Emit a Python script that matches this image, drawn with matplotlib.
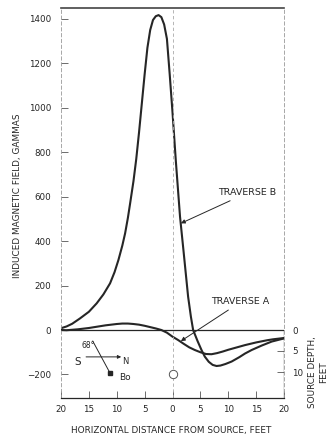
import numpy as np
import matplotlib.pyplot as plt

# traverse B (feet, gammas)
xb = [-20, -19, -18, -16.6, -15, -13.6, -12.4, -11.2, -10.4, -9.7, -9, -8.5, -8, -7.6,
      -7, -6.5, -6, -5.5, -5, -4.5, -4, -3.5, -3, -2.5, -2, -1.5, -1, -0.5,
      0, 0.6, 1.35, 2.0, 2.8, 3.3, 3.7, 4.5, 5.2, 5.8, 6.5, 7.2, 7.9, 8.6, 9.5,
      10.6, 12, 13, 14.2, 16, 17.8, 20]
vb = [8, 16, 28, 52, 82, 120, 160, 210, 260, 315, 380, 435, 505, 570,
      670, 770, 890, 1020, 1150, 1270, 1350, 1395, 1412, 1417, 1408, 1375, 1310, 1150,
      980, 760, 510, 350, 150, 60, 0, -50, -90, -120, -143, -157, -162, -160, -153,
      -142, -122, -106, -90, -70, -52, -38]

# traverse A
xa = [-20, -19, -18, -17, -16, -15, -14, -13, -12, -11, -10, -9, -8, -7, -6, -5,
      -4, -3, -2, -1, 0, 1, 2, 3, 4, 5, 6, 7, 8, 9, 10, 11, 12, 13, 14, 15, 16,
      17, 18, 19, 20]
va = [0, -1, 1, 3, 6, 9, 13, 17, 21, 24, 27, 29, 29, 27, 24, 19,
      13, 7, 0, -12, -30, -45, -62, -78, -90, -100, -108, -109, -104, -97, -89, -82,
      -75, -68, -62, -56, -51, -46, -42, -39, -36]

xticks = [-20, -15, -10, -5, 0, 5, 10, 15, 20]
xticklabels = ['20', '15', '10', '5', '0', '5', '10', '15', '20']
yticks = [-200, 0, 200, 400, 600, 800, 1000, 1200, 1400]
depth_ticks = [0, 5, 10]
gamma_per_ft = 18.9
source_x, source_depth = 0, 10.5

ink = '#262626'
plt.rcParams['font.family'] = 'DejaVu Sans'
plt.rcParams['font.size'] = 6.3

fig = plt.figure(figsize=(3.35, 4.37), dpi=100)
ax = fig.add_axes([61 / 335, 1 - 398 / 437, 223 / 335, 390 / 437])

ax.plot(xb, vb, color=ink, lw=1.5, solid_joinstyle='round')
ax.plot(xa, va, color=ink, lw=1.5, solid_joinstyle='round')
ax.axhline(0, color=ink, lw=0.9)
ax.axvline(0, color='#aaaaaa', lw=0.6, ls=(0, (4, 3)))
ax.vlines(20, -306, 0, color=ink, lw=0.9)

ax.set_xlim(-20, 20)
ax.set_ylim(-306, 1449)
ax.set_xticks(xticks)
ax.set_xticklabels(xticklabels)
ax.set_yticks(yticks)
ax.tick_params(direction='in', length=5, width=0.6, color='#555555', labelcolor=ink)
ax.tick_params(axis='y', pad=7)
ax.tick_params(axis='x', pad=5)

for s in ['left', 'right']:
    ax.spines[s].set_linestyle((0, (4, 3)))
    ax.spines[s].set_color('#999999')
    ax.spines[s].set_linewidth(0.6)
ax.spines['top'].set_color('#444444')
ax.spines['top'].set_linewidth(1.2)
ax.spines['bottom'].set_color(ink)
ax.spines['bottom'].set_linewidth(0.9)

# source depth scale
sec = ax.secondary_yaxis('right', functions=(lambda v: -v / gamma_per_ft,
                                             lambda d: -d * gamma_per_ft))
sec.set_yticks(depth_ticks)
sec.spines['right'].set_visible(False)
sec.tick_params(direction='in', length=5, width=0.6, color='#555555',
                labelcolor=ink, pad=6)

# source
ax.plot(source_x, -source_depth * gamma_per_ft, 'o', mfc='white', mec='#555555',
        mew=0.7, ms=6)

# annotations
ax.annotate('TRAVERSE B', xy=(1.5, 480), xytext=(8.2, 617), color=ink,
            va='center', ha='left', fontsize=6.8,
            arrowprops=dict(arrowstyle='-|>', color=ink, lw=0.7,
                            mutation_scale=6, shrinkA=1, shrinkB=0))
ax.annotate('TRAVERSE A', xy=(1.5, -50), xytext=(7.0, 126), color=ink,
            va='center', ha='left', fontsize=6.8,
            arrowprops=dict(arrowstyle='-|>', color=ink, lw=0.7,
                            mutation_scale=6, shrinkA=1, shrinkB=0))

# field direction sketch
ax.annotate('', xy=(-9.2, -121), xytext=(-15.5, -121),
            arrowprops=dict(arrowstyle='-|>', color=ink, lw=0.7,
                            mutation_scale=5, shrinkA=0, shrinkB=0))
ax.plot([-14.3, -11.2], [-50, -194], color=ink, lw=0.7)
ax.plot(-11.2, -194, 's', color=ink, ms=3)
ax.text(-17, -144, 'S', color=ink, ha='center', va='center', fontsize=7.5)
ax.text(-8.5, -144, 'N', color=ink, ha='center', va='center', fontsize=6)
ax.text(-15.2, -72, '68°', color=ink, ha='center', va='center', fontsize=5.5)
ax.text(-9.6, -216, 'Bo', color=ink, ha='left', va='center', fontsize=6.5)

fig.text(18 / 335, 1 - 196 / 437, 'INDUCED MAGNETIC FIELD, GAMMAS', rotation=90,
         ha='center', va='center', color=ink, fontsize=6.4)
fig.text(171 / 335, 1 - 430 / 437, 'HORIZONTAL DISTANCE FROM SOURCE, FEET',
         ha='center', va='center', color=ink, fontsize=6.4)
fig.text(318 / 335, 1 - 372 / 437, 'SOURCE DEPTH,\nFEET', rotation=90,
         ha='center', va='center', color=ink, fontsize=6.4, linespacing=1.2)

fig.savefig('out.png', dpi=100)
